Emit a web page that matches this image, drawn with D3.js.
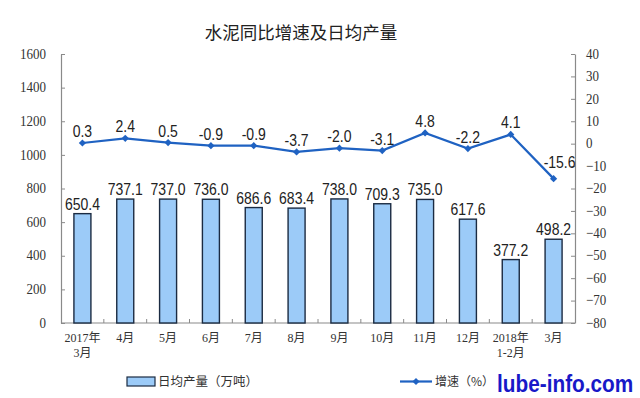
<!DOCTYPE html>
<html><head><meta charset="utf-8">
<script src="https://cdn.jsdelivr.net/npm/d3@7"></script>
<style>body{margin:0;background:#fff} svg{display:block}</style>
</head><body>
<svg id="c" width="640" height="398"></svg>
<script>
const categories = ["2017年\n3月","4月","5月","6月","7月","8月","9月","10月","11月","12月","2018年\n1-2月","3月 "];
const output = [650.4,737.1,737.0,736.0,686.6,683.4,738.0,709.3,735.0,617.6,377.2,498.2];
const growth = [0.3,2.4,0.5,-0.9,-0.9,-3.7,-2.0,-3.1,4.8,-2.2,4.1,-15.6];
const leftTicks = [0,200,400,600,800,1000,1200,1400,1600];
const rightTicks = [-80,-70,-60,-50,-40,-30,-20,-10,0,10,20,30,40];
const titleText = "水泥同比增速及日均产量";
const legendBar = "日均产量（万吨）";
const legendLine = "增速（%）";
const watermark = "lube-info.com";

const svg = d3.select("#c");
const L = 61, R = 575, T = 54, B = 323;
const SY = 1.15;
const x = d3.scaleBand().domain(categories).range([L, R]).padding(0);
const y1 = d3.scaleLinear().domain([0, 1600]).range([B, T]);
const y2 = d3.scaleLinear().domain([-80, 40]).range([B, T]);
const cx = (c) => x(c) + x.bandwidth() / 2;
const barW = 17;
const barFill = "#9ccbf8", barStroke = "#1b2b42", lineColor = "#1f62c2";
const axisColor = "#8a8a8a";

// title
svg.append("text").attr("x", 301).attr("y", 39).attr("text-anchor", "middle")
  .attr("font-family", "'Noto Sans CJK SC', sans-serif").attr("font-size", 17.5)
  .attr("fill", "#222").text(titleText);

// left axis
const ga = svg.append("g").attr("transform", `translate(${L},0)`)
  .call(d3.axisLeft(y1).tickValues(leftTicks).tickSizeInner(-4).tickSizeOuter(0).tickPadding(15).tickFormat(d3.format("d")));
// right axis
const gb = svg.append("g").attr("transform", `translate(${R},0)`)
  .call(d3.axisRight(y2).tickValues(rightTicks).tickSizeInner(-4).tickSizeOuter(0).tickPadding(11).tickFormat(d3.format("d")));
[ga, gb].forEach(g => {
  g.select(".domain").attr("stroke", axisColor).attr("stroke-width", 1.2);
  g.selectAll(".tick line").attr("stroke", axisColor);
  g.selectAll(".tick text").attr("font-family", "'Liberation Serif', serif").attr("font-size", 13)
    .attr("fill", "#333").attr("transform", `scale(1,${SY})`).attr("dy", "0.28em");
});

// x axis
svg.append("line").attr("x1", L).attr("x2", R).attr("y1", B).attr("y2", B)
  .attr("stroke", axisColor).attr("stroke-width", 1.2);
svg.append("g").selectAll("line").data(categories.slice(1)).join("line")
  .attr("x1", d => x(d)).attr("x2", d => x(d)).attr("y1", B).attr("y2", B - 4)
  .attr("stroke", axisColor);
const cl = svg.append("g").selectAll("text").data(categories).join("text")
  .attr("text-anchor", "middle")
  .attr("font-family", "'Liberation Serif', 'Noto Sans CJK SC', serif").attr("font-size", 12)
  .attr("fill", "#333")
  .attr("transform", d => `translate(${cx(d)},${B + 19})`);
cl.each(function(d) {
  const parts = d.split("\n");
  d3.select(this).selectAll("tspan").data(parts).join("tspan")
    .attr("x", 0).attr("dy", (p, i) => i === 0 ? 0 : 15).text(p => p.trim());
});

// bars
svg.append("g").selectAll("rect").data(categories).join("rect")
  .attr("x", d => cx(d) - barW / 2).attr("width", barW)
  .attr("y", (d, i) => y1(output[i])).attr("height", (d, i) => B - y1(output[i]))
  .attr("fill", barFill).attr("stroke", barStroke).attr("stroke-width", 1.4);
svg.append("g").selectAll("text").data(categories).join("text")
  .attr("text-anchor", "middle")
  .attr("font-family", "'Liberation Sans', Arial, sans-serif").attr("font-size", 14)
  .attr("fill", "#222")
  .attr("transform", (d, i) => `translate(${cx(d)},${y1(output[i]) - 4}) scale(1,${SY})`)
  .text((d, i) => output[i].toFixed(1));

// line
const line = d3.line().x((d, i) => cx(categories[i])).y(d => y2(d));
svg.append("path").datum(growth).attr("d", line).attr("fill", "none")
  .attr("stroke", lineColor).attr("stroke-width", 2.2);
const sym = d3.symbol().type(d3.symbolSquare).size(26);
svg.append("g").selectAll("path").data(growth).join("path")
  .attr("d", sym).attr("fill", lineColor)
  .attr("transform", (d, i) => `translate(${cx(categories[i])},${y2(d)}) rotate(45)`);
const lastIdx = growth.length - 1;
svg.append("g").selectAll("text").data(growth).join("text")
  .attr("text-anchor", "middle")
  .attr("font-family", "'Liberation Sans', Arial, sans-serif").attr("font-size", 14)
  .attr("fill", "#222")
  .attr("transform", (d, i) => {
    const dx = i === lastIdx ? 6 : 0;
    const dy = i === lastIdx ? -11 : -6;
    return `translate(${cx(categories[i]) + dx},${y2(d) + dy}) scale(1,${SY})`;
  })
  .text(d => d.toFixed(1));

// legend
svg.append("rect").attr("x", 127).attr("y", 377).attr("width", 28).attr("height", 9)
  .attr("fill", barFill).attr("stroke", barStroke).attr("stroke-width", 1.2);
svg.append("text").attr("x", 158).attr("y", 386)
  .attr("font-family", "'Noto Sans CJK SC', sans-serif").attr("font-size", 12.5).attr("fill", "#333")
  .text(legendBar);
svg.append("line").attr("x1", 400).attr("x2", 432).attr("y1", 381.5).attr("y2", 381.5)
  .attr("stroke", lineColor).attr("stroke-width", 2.2);
svg.append("path").attr("d", sym).attr("fill", lineColor)
  .attr("transform", "translate(416,381.5) rotate(45)");
svg.append("text").attr("x", 435).attr("y", 386)
  .attr("font-family", "'Noto Sans CJK SC', sans-serif").attr("font-size", 12).attr("fill", "#333")
  .text(legendLine);

// watermark
svg.append("text").attr("transform", `translate(497,392) scale(1,1.15)`)
  .attr("font-family", "'Liberation Sans', Arial, sans-serif").attr("font-weight", "bold")
  .attr("font-size", 20.8).attr("fill", "#1818c8").text(watermark);
</script>
</body></html>
